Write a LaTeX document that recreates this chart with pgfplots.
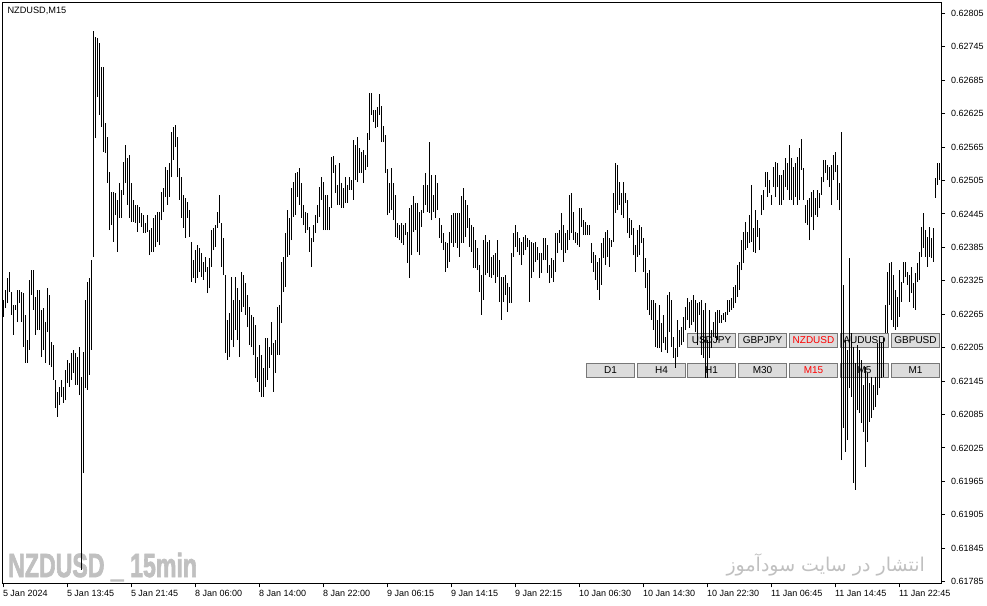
\documentclass[border=0pt]{standalone}
\usepackage{fontspec}
\setmainfont{Liberation Sans}
\newfontfamily\wmfont[FakeBold=2.5]{Liberation Sans Bold}
\newfontfamily\arabicfont[Script=Arabic]{DejaVu Sans}
\TeXXeTstate=1
\usepackage{graphicx}
\usepackage{pgfplots}
\usepackage{pgfplotstable}
\pgfplotsset{compat=1.18}

\definecolor{btnfill}{RGB}{220,220,220}
\definecolor{btnedge}{RGB}{120,120,120}
\definecolor{wm}{RGB}{192,192,192}

% NZDUSD M15 bars: index, low, high (in points, 0.00001)
\pgfplotstableread[row sep=\\]{
i l h\\
0 62260 62291\\ 1 62276 62309\\ 2 62285 62330\\ 3 62305 62341\\ 4 62264 62305\\ 5 62228 62282\\
6 62273 62282\\ 7 62251 62309\\ 8 62285 62309\\ 9 62251 62305\\ 10 62206 62303\\ 11 62178 62264\\
12 62178 62219\\ 13 62201 62327\\ 14 62300 62345\\ 15 62273 62345\\ 16 62228 62296\\ 17 62237 62309\\
18 62237 62309\\ 19 62188 62273\\ 20 62201 62276\\ 21 62178 62251\\ 22 62233 62312\\ 23 62174 62300\\
24 62170 62215\\ 25 62147 62210\\ 26 62097 62147\\ 27 62081 62126\\ 28 62102 62135\\ 29 62117 62147\\
30 62106 62135\\ 31 62111 62165\\ 32 62142 62183\\ 33 62135 62178\\ 34 62147 62196\\ 35 62160 62201\\
36 62138 62196\\ 37 62138 62188\\ 38 62120 62206\\ 39 61806 62153\\ 40 61980 62197\\ 41 62133 62291\\
42 62129 62323\\ 43 62156 62330\\ 44 62201 62362\\ 45 62368 62773\\ 46 62581 62763\\ 47 62655 62761\\
48 62623 62752\\ 49 62601 62709\\ 50 62556 62709\\ 51 62554 62608\\ 52 62501 62583\\ 53 62416 62520\\
54 62425 62485\\ 55 62395 62485\\ 56 62443 62483\\ 57 62377 62470\\ 58 62438 62501\\ 59 62438 62488\\
60 62479 62538\\ 61 62501 62569\\ 62 62461 62545\\ 63 62438 62551\\ 64 62431 62501\\ 65 62431 62470\\
66 62429 62461\\ 67 62413 62461\\ 68 62429 62458\\ 69 62422 62447\\ 70 62411 62443\\ 71 62411 62429\\
72 62413 62443\\ 73 62371 62416\\ 74 62377 62420\\ 75 62377 62438\\ 76 62386 62443\\ 77 62395 62449\\
78 62389 62449\\ 79 62434 62485\\ 80 62449 62492\\ 81 62476 62530\\ 82 62461 62524\\ 83 62476 62536\\
84 62511 62592\\ 85 62542 62601\\ 86 62565 62605\\ 87 62511 62583\\ 88 62470 62527\\ 89 62438 62511\\
90 62420 62479\\ 91 62402 62474\\ 92 62438 62467\\ 93 62404 62452\\ 94 62323 62395\\ 95 62330 62362\\
96 62321 62380\\ 97 62330 62389\\ 98 62341 62384\\ 99 62332 62375\\ 100 62327 62359\\ 101 62341 62368\\
102 62303 62350\\ 103 62312 62366\\ 104 62350 62416\\ 105 62380 62420\\ 106 62386 62425\\ 107 62420 62449\\
108 62429 62479\\ 109 62350 62429\\ 110 62335 62402\\ 111 62196 62335\\ 112 62183 62255\\ 113 62188 62267\\
114 62219 62332\\ 115 62206 62291\\ 116 62237 62332\\ 117 62219 62312\\ 118 62188 62291\\ 119 62269 62341\\
120 62278 62335\\ 121 62264 62321\\ 122 62242 62300\\ 123 62210 62278\\ 124 62206 62264\\ 125 62192 62260\\
126 62151 62246\\ 127 62144 62188\\ 128 62126 62210\\ 129 62117 62192\\ 130 62117 62169\\ 131 62135 62222\\
132 62147 62222\\ 133 62169 62206\\ 134 62192 62251\\ 135 62126 62213\\ 136 62160 62219\\ 137 62192 62278\\
138 62192 62282\\ 139 62249 62359\\ 140 62305 62368\\ 141 62314 62411\\ 142 62368 62452\\ 143 62371 62438\\
144 62398 62492\\ 145 62440 62502\\ 146 62443 62519\\ 147 62476 62520\\ 148 62461 62527\\ 149 62438 62501\\
150 62425 62461\\ 151 62411 62449\\ 152 62416 62447\\ 153 62377 62422\\ 154 62350 62402\\ 155 62395 62425\\
156 62411 62443\\ 157 62429 62461\\ 158 62440 62494\\ 159 62470 62511\\ 160 62416 62502\\ 161 62416 62479\\
162 62416 62479\\ 163 62416 62458\\ 164 62456 62547\\ 165 62519 62549\\ 166 62483 62533\\ 167 62461 62497\\
168 62461 62536\\ 169 62456 62501\\ 170 62456 62492\\ 171 62465 62511\\ 172 62465 62497\\ 173 62488 62511\\
174 62488 62506\\ 175 62470 62578\\ 176 62506 62569\\ 177 62502 62583\\ 178 62519 62563\\ 179 62519 62556\\
180 62501 62560\\ 181 62524 62551\\ 182 62530 62590\\ 183 62578 62662\\ 184 62623 62662\\ 185 62610 62632\\
186 62599 62632\\ 187 62601 62637\\ 188 62623 62660\\ 189 62574 62639\\ 190 62574 62603\\ 191 62519 62587\\
192 62443 62526\\ 193 62447 62501\\ 194 62452 62527\\ 195 62434 62501\\ 196 62404 62479\\ 197 62402 62429\\
198 62398 62425\\ 199 62393 62429\\ 200 62389 62425\\ 201 62407 62429\\ 202 62357 62413\\ 203 62330 62456\\
204 62371 62461\\ 205 62413 62477\\ 206 62416 62465\\ 207 62377 62465\\ 208 62371 62449\\ 209 62422 62452\\
210 62447 62497\\ 211 62461 62519\\ 212 62449 62497\\ 213 62447 62574\\ 214 62434 62515\\ 215 62449 62479\\
216 62438 62515\\ 217 62452 62501\\ 218 62402 62438\\ 219 62393 62425\\ 220 62380 62411\\ 221 62341 62395\\
222 62348 62393\\ 223 62359 62413\\ 224 62393 62443\\ 225 62386 62447\\ 226 62393 62447\\ 227 62384 62447\\
228 62368 62447\\ 229 62393 62477\\ 230 62393 62492\\ 231 62404 62470\\ 232 62420 62461\\ 233 62386 62438\\
234 62377 62425\\ 235 62348 62422\\ 236 62348 62398\\ 237 62344 62384\\ 238 62305 62353\\ 239 62264 62335\\
240 62291 62398\\ 241 62335 62407\\ 242 62339 62395\\ 243 62332 62398\\ 244 62330 62368\\ 245 62335 62371\\
246 62321 62375\\ 247 62332 62398\\ 248 62287 62362\\ 249 62255 62332\\ 250 62287 62332\\ 251 62300 62335\\
252 62269 62321\\ 253 62285 62314\\ 254 62285 62375\\ 255 62368 62411\\ 256 62386 62425\\ 257 62377 62413\\
258 62371 62402\\ 259 62353 62395\\ 260 62371 62404\\ 261 62380 62407\\ 262 62386 62402\\ 263 62287 62398\\
264 62330 62395\\ 265 62341 62393\\ 266 62359 62395\\ 267 62362 62386\\ 268 62330 62375\\ 269 62339 62375\\
270 62362 62402\\ 271 62362 62402\\ 272 62339 62389\\ 273 62321 62353\\ 274 62330 62366\\ 275 62323 62362\\
276 62341 62411\\ 277 62375 62411\\ 278 62393 62416\\ 279 62380 62447\\ 280 62359 62425\\ 281 62375 62411\\
282 62380 62416\\ 283 62398 62479\\ 284 62411 62483\\ 285 62398 62449\\ 286 62393 62413\\ 287 62389 62411\\
288 62386 62456\\ 289 62422 62456\\ 290 62407 62434\\ 291 62407 62431\\ 292 62407 62425\\ 293 62407 62425\\
294 62357 62393\\ 295 62341 62377\\ 296 62326 62371\\ 297 62309 62359\\ 298 62291 62366\\ 299 62318 62393\\
300 62366 62402\\ 301 62353 62413\\ 302 62368 62416\\ 303 62350 62402\\ 304 62386 62398\\ 305 62395 62483\\
306 62447 62536\\ 307 62452 62533\\ 308 62461 62502\\ 309 62443 62483\\ 310 62438 62502\\ 311 62465 62483\\
312 62411 62470\\ 313 62402 62438\\ 314 62407 62434\\ 315 62371 62420\\ 316 62341 62389\\ 317 62368 62416\\
318 62371 62425\\ 319 62393 62422\\ 320 62341 62402\\ 321 62312 62366\\ 322 62273 62339\\ 323 62264 62344\\
324 62255 62291\\ 325 62237 62291\\ 326 62206 62285\\ 327 62204 62255\\ 328 62204 62282\\ 329 62197 62249\\
330 62213 62264\\ 331 62201 62224\\ 332 62195 62300\\ 333 62233 62305\\ 334 62206 62291\\ 335 62187 62224\\
336 62169 62204\\ 337 62188 62255\\ 338 62206 62237\\ 339 62210 62242\\ 340 62215 62260\\ 341 62237 62278\\
342 62255 62294\\ 343 62240 62287\\ 344 62246 62291\\ 345 62251 62300\\ 346 62233 62291\\ 347 62210 62285\\
348 62264 62287\\ 349 62192 62291\\ 350 62187 62273\\ 351 62151 62285\\ 352 62151 62219\\ 353 62187 62273\\
354 62204 62237\\ 355 62224 62251\\ 356 62222 62269\\ 357 62219 62273\\ 358 62249 62273\\ 359 62249 62264\\
360 62255 62267\\ 361 62251 62269\\ 362 62264 62291\\ 363 62269 62291\\ 364 62273 62294\\ 365 62276 62314\\
366 62285 62318\\ 367 62296 62353\\ 368 62309 62359\\ 369 62344 62398\\ 370 62357 62413\\ 371 62380 62431\\
372 62384 62413\\ 373 62393 62443\\ 374 62395 62497\\ 375 62377 62420\\ 376 62375 62452\\ 377 62404 62434\\
378 62380 62420\\ 379 62443 62479\\ 380 62452 62488\\ 381 62493 62520\\ 382 62475 62520\\ 383 62483 62506\\
384 62461 62479\\ 385 62493 62529\\ 386 62475 62538\\ 387 62493 62536\\ 388 62461 62515\\ 389 62461 62515\\
390 62470 62524\\ 391 62493 62545\\ 392 62488 62536\\ 393 62470 62569\\ 394 62470 62545\\ 395 62461 62529\\
396 62475 62536\\ 397 62461 62547\\ 398 62470 62563\\ 399 62524 62580\\ 400 62470 62527\\ 401 62429 62461\\
402 62425 62470\\ 403 62398 62474\\ 404 62440 62484\\ 405 62416 62488\\ 406 62443 62474\\ 407 62440 62488\\
408 62456 62483\\ 409 62479 62511\\ 410 62502 62542\\ 411 62519 62542\\ 412 62506 62533\\ 413 62493 62529\\
414 62461 62533\\ 415 62506 62551\\ 416 62520 62556\\ 417 62470 62533\\ 418 62452 62501\\ 419 62003 62592\\
420 62061 62318\\ 421 62018 62219\\ 422 62039 62201\\ 423 62133 62366\\ 424 62117 62231\\ 425 61962 62206\\
426 61950 62178\\ 427 62093 62210\\ 428 62088 62201\\ 429 62070 62183\\ 430 62054 62138\\ 431 61991 62170\\
432 62036 62160\\ 433 62072 62142\\ 434 62079 62152\\ 435 62093 62138\\ 436 62099 62152\\ 437 62120 62213\\
438 62133 62219\\ 439 62151 62213\\ 440 62152 62222\\ 441 62231 62282\\ 442 62231 62341\\ 443 62282 62357\\
444 62255 62359\\ 445 62242 62335\\ 446 62237 62309\\ 447 62242 62296\\ 448 62260 62344\\ 449 62287 62323\\
450 62321 62359\\ 451 62332 62359\\ 452 62318 62341\\ 453 62287 62335\\ 454 62303 62350\\ 455 62276 62321\\
456 62273 62339\\ 457 62323 62357\\ 458 62326 62377\\ 459 62368 62422\\ 460 62384 62447\\ 461 62368 62416\\
462 62350 62404\\ 463 62368 62422\\ 464 62366 62402\\ 465 62359 62420\\ 466 62474 62510\\ 467 62497 62536\\
468 62506 62536\\
}\bars

\begin{document}
\begin{tikzpicture}[x=1pt,y=1pt]
\path[use as bounding box] (0,0) rectangle (987,-605);

% watermarks (under the bars)
\node[anchor=base west, inner sep=0pt, text=wm, font=\wmfont\fontsize{33.5}{34}\selectfont]
  at (8,-577) {\scalebox{0.69}[1]{NZDUSD \_ 15min}};
\node[anchor=base east, inner sep=0pt, text=wm, font=\arabicfont\fontsize{19}{20}\selectfont]
  at (925,-571) {\beginR انتشار در سایت سودآموز\endR};

% symbol buttons
\foreach \x/\t/\c in {687/USDJPY/black, 738/GBPJPY/black, 789/NZDUSD/red, 840/AUDUSD/black, 891/GBPUSD/black}{
  \draw[btnedge, fill=btnfill, line width=1pt] (\x+0.5,-333.5) rectangle (\x+48.5,-347);
  \node[text=\c, font=\fontsize{10}{11}\selectfont, inner sep=0pt] at (\x+24.5,-340.5) {\t};
}
% timeframe buttons
\foreach \x/\t/\c in {586/D1/black, 637/H4/black, 687/H1/black, 738/M30/black, 789/M15/red, 840/M5/black, 891/M1/black}{
  \draw[btnedge, fill=btnfill, line width=1pt] (\x+0.5,-363.5) rectangle (\x+48.5,-377);
  \node[text=\c, font=\fontsize{10}{11}\selectfont, inner sep=0pt] at (\x+24.5,-370.5) {\t};
}

\node[anchor=north west, inner sep=0pt, font=\fontsize{9.2}{10}\selectfont] at (7.3,-7.2) {NZDUSD,M15};

\begin{axis}[
  at={(2.7pt,-583.3pt)}, anchor=south west,
  scale only axis, width=938.3pt, height=580.6pt,
  xmin=-0.3, xmax=468.85, ymin=61782.1, ymax=62824,
  axis line style={black, line width=1pt},
  tick align=outside, major tick length=4pt,
  tick style={black, line width=1pt},
  xtick pos=left, ytick pos=right, yticklabel pos=right,
  xtick={0,32,...,448},
  xticklabels={5 Jan 2024, 5 Jan 13:45, 5 Jan 21:45, 8 Jan 06:00, 8 Jan 14:00, 8 Jan 22:00,
    9 Jan 06:15, 9 Jan 14:15, 9 Jan 22:15, 10 Jan 06:30, 10 Jan 14:30, 10 Jan 22:30,
    11 Jan 06:45, 11 Jan 14:45, 11 Jan 22:45},
  ytick={61785,61845,61905,61965,62025,62085,62145,62205,62265,62325,62385,62445,62505,62565,62625,62685,62745,62805},
  yticklabels={0.61785,0.61845,0.61905,0.61965,0.62025,0.62085,0.62145,0.62205,0.62265,0.62325,0.62385,0.62445,0.62505,0.62565,0.62625,0.62685,0.62745,0.62805},
  ticklabel style={font=\fontsize{9}{10}\selectfont, inner sep=0pt, text=black},
  xticklabel style={anchor=north west, xshift=-0.5pt, yshift=-3pt},
  yticklabel style={anchor=west, xshift=6pt},
]
\addplot[draw=none, mark=none,
  error bars/.cd, y dir=plus, y explicit, error mark=none,
  error bar style={draw=black, solid, line width=1.1pt}]
  table[x=i, y=l, y error expr=\thisrow{h}-\thisrow{l}] {\bars};
\end{axis}
\end{tikzpicture}
\end{document}
